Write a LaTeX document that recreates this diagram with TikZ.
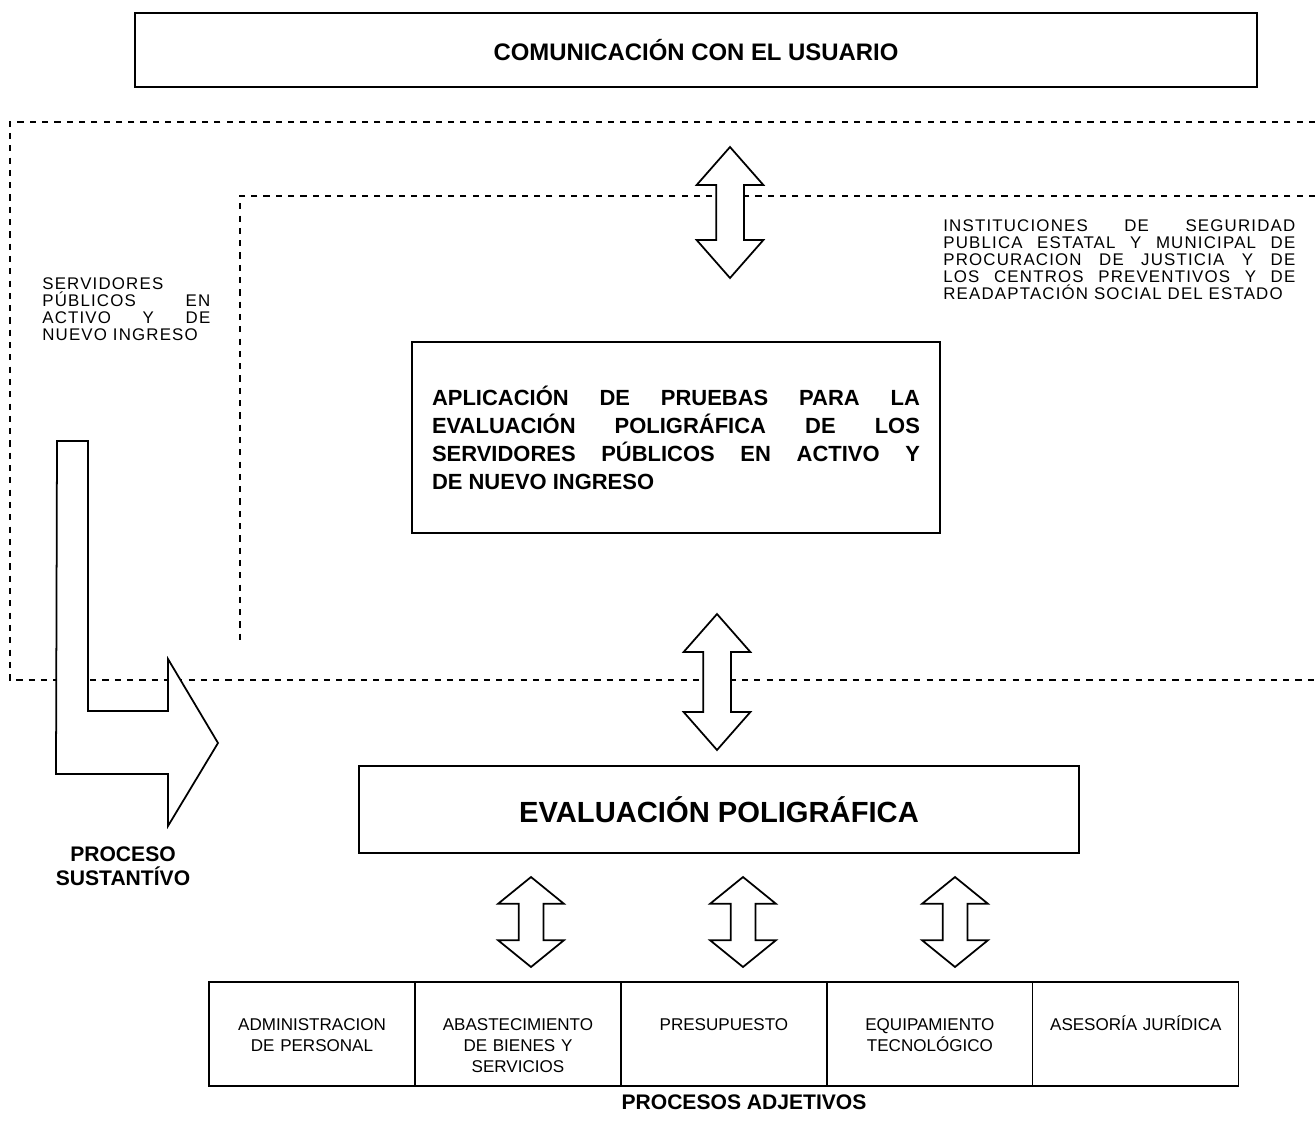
\documentclass[tikz,border=0pt]{standalone}
\usepackage{fontspec}
\setmainfont{Liberation Sans}
\newfontfamily\widesans[LetterSpace=7]{Liberation Sans}
\usepackage{tikz}
\usetikzlibrary{positioning,shapes.arrows}
\tolerance=10000
\hbadness=10000
\setlength{\lineskiplimit}{-6pt}
\tikzset{
  box/.style={draw=black,line width=0.7pt,outer sep=0pt,inner sep=0pt},
  cell/.style={box,minimum width=4.12cm,minimum height=2.08cm},
  celltext/.style={inner sep=0pt,text width=3.9cm,align=center,
    font=\fontsize{9.7}{12}\selectfont},
  zone/.style={line width=0.7pt,dash pattern=on 3.5pt off 3.5pt},
  fatline/.style={draw=black,fill=white,line width=1pt,line join=miter},
  dblarrow/.style args={#1,#2,#3,#4}{
    double arrow,fatline,rotate=90,
    inner xsep=0pt,inner ysep=#2 cm,
    minimum height=#1 cm,minimum width=0pt,
    double arrow head extend=#3 cm,
    double arrow tip angle=#4
  },
  smalltext/.style={inner sep=0pt,anchor=north west,align=justify,
    font=\widesans\fontsize{9.6}{9.7}\selectfont},
  bold/.style={inner sep=0pt,align=center,
    font=\fontsize{12}{13.7}\selectfont\bfseries}
}
\begin{document}
\begin{tikzpicture}[x=0.02cm,y=-0.02cm]
  \useasboundingbox (0,0) rectangle (1315,1130);

  \draw [zone] (1315,122) -- (10,122) -- (10,680) -- (1315,680);
  \draw [zone] (1315,196) -- (240,196) -- (240,645);

  \node [box,minimum width=22.44cm,minimum height=1.48cm,
    font=\fontsize{13.6}{15}\selectfont\bfseries] (usr) at (696,50) {COMUNICACIÓN CON EL USUARIO};
  \node [box,minimum width=10.56cm,minimum height=3.82cm,text width=9.76cm,align=justify,
    font=\fontsize{12.5}{15.9}\selectfont\bfseries] (apl) at (676,437.5)
    {APLICACIÓN DE PRUEBAS PARA LA\linebreak EVALUACIÓN POLIGRÁFICA DE LOS\linebreak
     SERVIDORES PÚBLICOS EN ACTIVO Y\linebreak DE NUEVO INGRESO};
  \node [box,minimum width=14.4cm,minimum height=1.74cm,
    font=\fontsize{16.6}{19}\selectfont\bfseries] (eva) at (719,809.5) {EVALUACIÓN POLIGRÁFICA};

  \node [smalltext,text width=3.36cm] (serv) at (42,277)
    {SERVIDORES\linebreak PÚBLICOS EN\linebreak ACTIVO Y DE\linebreak NUEVO INGRESO};
  \node [smalltext,text width=7.04cm] (inst) at (943,219)
    {INSTITUCIONES DE SEGURIDAD\linebreak PUBLICA ESTATAL Y MUNICIPAL DE\linebreak
     PROCURACION DE JUSTICIA Y DE\linebreak LOS CENTROS PREVENTIVOS Y DE\linebreak
     READAPTACIÓN SOCIAL DEL ESTADO};

  \draw [fatline] (57,441) -- (88,441) -- (88,711) -- (168,711) -- (168,659) -- (218,743)
    -- (168,826) -- (168,774) -- (56,774) -- cycle;
  \node [bold] (sust) at (123,866) {PROCESO\\SUSTANTÍVO};

  \node [dblarrow={2.62,0.26,0.39,82.6}] (a1) at (730,212.5) {};
  \node [dblarrow={2.72,0.26,0.39,82.6}] (a2) at (717,682) {};

  \node [dblarrow={1.8,0.23,0.41,101.8}] (b1) at (531,922) {};
  \node [dblarrow={1.8,0.23,0.41,101.8}] (b2) at (743,922) {};
  \node [dblarrow={1.8,0.23,0.41,101.8}] (b3) at (955,922) {};

  \node [cell] (adm) at (312,1034) {};
  \node [cell,right=0pt of adm] (aba) {};
  \node [cell,right=0pt of aba] (pre) {};
  \node [cell,right=0pt of pre] (equ) {};
  \node [cell,right=0pt of equ] (ase) {};

  \node [celltext,below=0.72cm of adm.north] (t1) {ADMINISTRACION\\DE PERSONAL};
  \node [celltext,below=0.72cm of aba.north] (t2) {ABASTECIMIENTO\\DE BIENES Y\\SERVICIOS};
  \node [celltext,below=0.72cm of pre.north] (t3) {PRESUPUESTO};
  \node [celltext,below=0.72cm of equ.north] (t4) {EQUIPAMIENTO\\TECNOLÓGICO};
  \node [celltext,below=0.66cm of ase.north] (t5) {ASESORÍA JURÍDICA};

  \node [bold] (adj) at (744,1102) {PROCESOS ADJETIVOS};
\end{tikzpicture}
\end{document}
